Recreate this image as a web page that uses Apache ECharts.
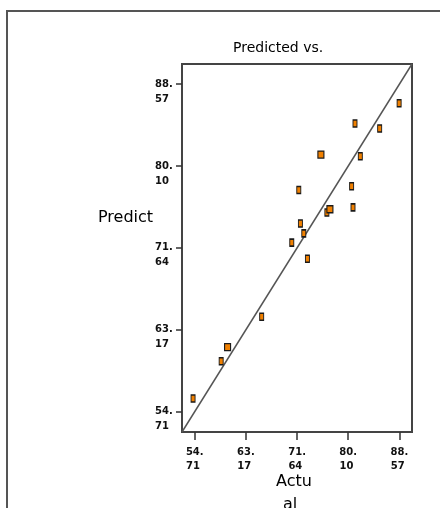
<!DOCTYPE html>
<html>
<head>
<meta charset="utf-8">
<script src="https://cdn.jsdelivr.net/npm/echarts@6/dist/echarts.min.js"></script>
<style>
html,body{margin:0;padding:0;background:#fff;}
#c{width:440px;height:508px;}
</style>
</head>
<body>
<div id="c"></div>
<script>
// ---- data ----
const actual    = [88.52, 81.22, 85.30, 82.10, 80.66, 71.92, 80.89, 76.57, 72.19, 72.75, 70.76, 73.35, 65.78, 59.08, 54.43];
const predicted = [86.60, 84.50, 83.98, 81.12, 78.01, 77.63, 75.83, 75.29, 74.15, 73.14, 72.18, 70.52, 64.52, 59.92, 56.06];
// points drawn as wider markers (overlapping observations)
const actualRepeated    = [75.58, 77.07, 60.14];
const predictedRepeated = [81.29, 75.63, 61.37];
const tickValues = [54.71, 63.17, 71.64, 80.10, 88.57];
const tickLabels = ['54.71', '63.17', '71.64', '80.10', '88.57'];
const axisRange = [52.6, 90.65];
const titleText = 'Predicted vs.';
const yAxisName = 'Predict';
const xAxisName = ['Actu', 'al'];

function splitLabel(v) {
  let i = tickValues.findIndex(t => Math.abs(t - v) < 1e-6);
  if (i < 0) return '';
  const s = tickLabels[i];
  const p = s.indexOf('.') + 1;
  return [s.slice(0, p), s.slice(p)];
}

const chart = echarts.init(document.getElementById('c'), null, {renderer: 'canvas'});
const labelFont = {fontFamily: 'DejaVu Sans', fontSize: 10, fontWeight: 'bold', color: '#111'};
chart.setOption({
  animation: false,
  backgroundColor: '#fff',
  grid: {left: 182, top: 64, width: 230, height: 368, show: true, borderColor: '#444', borderWidth: 2, backgroundColor: 'transparent'},
  xAxis: {
    type: 'value', min: axisRange[0], max: axisRange[1],
    splitLine: {show: false},
    axisLine: {show: false},
    axisTick: {show: true, length: 8, inside: false, customValues: tickValues, lineStyle: {color: '#333', width: 1.5}},
    axisLabel: Object.assign({
      customValues: tickValues, margin: 13, lineHeight: 14, align: 'center',
      formatter: v => { const p = splitLabel(v); return p ? p[0] + '\n' + p[1] + ' ' : ''; }
    }, labelFont)
  },
  yAxis: {
    type: 'value', min: axisRange[0], max: axisRange[1],
    splitLine: {show: false},
    axisLine: {show: false},
    axisTick: {show: true, length: 6, customValues: tickValues, lineStyle: {color: '#333', width: 1.5}},
    axisLabel: Object.assign({
      customValues: tickValues, margin: 27, lineHeight: 15, align: 'left', verticalAlign: 'middle',
      formatter: v => { const p = splitLabel(v); return p ? ' \n' + p[0] + '\n' + p[1] : ''; }
    }, labelFont)
  },
  series: [
    {
      type: 'line', data: [[axisRange[0], axisRange[0]], [axisRange[1], axisRange[1]]],
      symbol: 'none', lineStyle: {color: '#555', width: 1.5}, silent: true, z: 2
    },
    {
      type: 'scatter', data: actual.map((a, i) => [a, predicted[i]]),
      symbol: 'rect', symbolSize: [4, 7],
      itemStyle: {color: '#f08000', borderColor: '#1a1a1a', borderWidth: 1.2, opacity: 1}, z: 3
    },
    {
      type: 'scatter', data: actualRepeated.map((a, i) => [a, predictedRepeated[i]]),
      symbol: 'rect', symbolSize: [6, 7],
      itemStyle: {color: '#f08000', borderColor: '#1a1a1a', borderWidth: 1.2, opacity: 1}, z: 3
    }
  ],
  graphic: [
    {type: 'rect', shape: {x: 7, y: 11, width: 700, height: 700}, style: {fill: 'none', stroke: '#555', lineWidth: 2}, silent: true},
    {type: 'text', x: 233, y: 48, style: {text: titleText, fontFamily: 'DejaVu Sans', fontSize: 14, fill: '#000', textVerticalAlign: 'middle', textAlign: 'left'}},
    {type: 'text', x: 98, y: 218, style: {text: yAxisName, fontFamily: 'DejaVu Sans', fontSize: 16, fill: '#000', textVerticalAlign: 'middle', textAlign: 'left'}},
    {type: 'text', x: 294, y: 482, style: {text: xAxisName[0], fontFamily: 'DejaVu Sans', fontSize: 16, fill: '#000', textVerticalAlign: 'middle', textAlign: 'center'}},
    {type: 'text', x: 290, y: 505, style: {text: xAxisName[1], fontFamily: 'DejaVu Sans', fontSize: 16, fill: '#000', textVerticalAlign: 'middle', textAlign: 'center'}}
  ]
});
</script>
</body>
</html>
